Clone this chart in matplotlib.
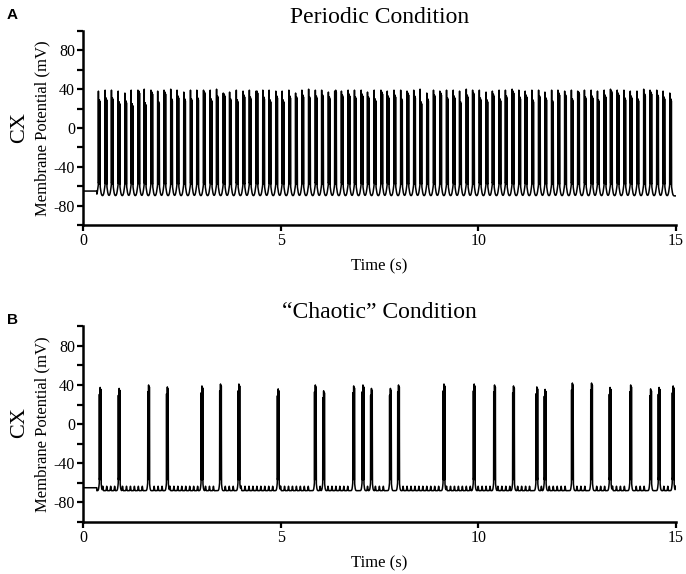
import numpy as np
import matplotlib
matplotlib.use("Agg")
import matplotlib.pyplot as plt

plt.rcParams['font.family'] = ['Liberation Serif', 'DejaVu Serif']
plt.rcParams['axes.unicode_minus'] = False

# ---- data ----
onset = 0.35          # trace sits at rest (-65 mV) until here
rest_mv = -65

# periodic condition: burst times (s), tall first spike and second spike peaks (mV)
periodic_bursts = [0.39, 0.56, 0.72, 0.89, 1.06, 1.22, 1.39, 1.55, 1.72, 1.89,
                   2.05, 2.22, 2.38, 2.55, 2.72, 2.88, 3.05, 3.22, 3.38, 3.55,
                   3.71, 3.88, 4.05, 4.21, 4.38, 4.55, 4.71, 4.88, 5.04, 5.21,
                   5.38, 5.54, 5.71, 5.88, 6.04, 6.21, 6.37, 6.54, 6.71, 6.87,
                   7.04, 7.20, 7.37, 7.54, 7.70, 7.87, 8.04, 8.20, 8.37, 8.53,
                   8.70, 8.87, 9.03, 9.20, 9.37, 9.53, 9.70, 9.86, 10.03, 10.20,
                   10.36, 10.53, 10.69, 10.86, 11.03, 11.19, 11.36, 11.53, 11.69, 11.86,
                   12.02, 12.19, 12.36, 12.52, 12.69, 12.86, 13.02, 13.19, 13.35, 13.52,
                   13.69, 13.85, 14.02, 14.19, 14.35, 14.52, 14.68, 14.85]
periodic_peak1 = [38, 39, 39, 38, 36, 39, 39, 40, 39, 38,
                  39, 40, 39, 37, 39, 39, 39, 39, 40, 36,
                  37, 39, 38, 39, 38, 39, 39, 38, 38, 39,
                  36, 39, 40, 39, 39, 37, 38, 38, 39, 39,
                  39, 37, 39, 39, 38, 39, 39, 38, 39, 40,
                  36, 39, 38, 39, 39, 38, 40, 39, 39, 37,
                  38, 39, 39, 40, 39, 38, 39, 39, 37, 39,
                  39, 38, 39, 38, 39, 39, 38, 39, 40, 39,
                  39, 38, 38, 40, 39, 39, 38, 36]
periodic_peak2 = [29, 31, 31, 27, 28, 25, 38, 26, 37, 27,
                  37, 30, 33, 30, 30, 31, 37, 30, 33, 35,
                  30, 29, 34, 32, 38, 32, 29, 33, 29, 33,
                  32, 34, 32, 33, 34, 32, 39, 34, 35, 32,
                  35, 32, 30, 37, 33, 34, 30, 36, 33, 27,
                  30, 34, 36, 31, 33, 27, 34, 36, 31, 29,
                  35, 30, 33, 38, 32, 34, 29, 33, 31, 28,
                  36, 34, 30, 37, 32, 33, 29, 34, 38, 36,
                  31, 33, 30, 35, 37, 34, 32, 30]

# "chaotic" condition: burst times (s) and burst peak (mV)
chaotic_bursts = [0.415, 0.895, 1.64, 2.115, 2.99, 3.46, 3.925, 4.92, 5.86, 6.07,
                  6.83, 7.065, 7.28, 7.76, 7.965, 9.115, 9.88, 10.395, 10.875, 11.465,
                  11.675, 12.365, 12.85, 13.32, 13.84, 14.345, 14.56, 14.915]
chaotic_peak = [37.5, 36.5, 40, 38, 39, 41, 41, 36, 40, 34,
                39, 40, 36.5, 36.5, 40, 41, 41, 40, 39, 38,
                35.5, 42, 42, 37.5, 40, 36, 37.5, 39]
small_event_gap = 0.1   # spacing of the small subthreshold events between bursts

t = np.arange(0, 15.0, 0.0005)


def add_spike(v, ts, peak, foot=-55, half=0.003):
    tri = peak - (peak - foot) * np.abs(t - ts) / half
    return np.maximum(v, tri)


# periodic trace
v1 = np.where(t < onset, rest_mv, -70.0)
for tb in periodic_bursts:
    v1 = v1 + np.where(t >= onset, 15 * np.exp(-((t - tb - 0.018) / 0.04) ** 2), 0)
for tb, p1, p2 in zip(periodic_bursts, periodic_peak1, periodic_peak2):
    v1 = add_spike(v1, tb, p1)
    v1 = add_spike(v1, tb + 0.025, p2)
    v1 = add_spike(v1, tb + 0.04, p2 - 2)

# chaotic trace
v2 = np.where(t < onset, rest_mv, -68.0)
bursts = np.array(chaotic_bursts)
ev = onset + 0.15
while ev < 15:
    if np.min(np.abs(bursts - ev)) > 0.07:
        v2 = v2 + 4.5 * np.exp(-((t - ev) / 0.01) ** 2)
    ev += small_event_gap
for tb, pk in zip(chaotic_bursts, chaotic_peak):
    v2 = v2 + np.where(t >= onset, 16 * np.exp(-((t - tb - 0.02) / 0.028) ** 2), 0)
for tb, pk in zip(chaotic_bursts, chaotic_peak):
    v2 = add_spike(v2, tb, pk - 7, foot=-54)
    v2 = add_spike(v2, tb + 0.02, pk, foot=-54)
    v2 = add_spike(v2, tb + 0.04, pk - 2, foot=-54)

fig = plt.figure(figsize=(6.86, 5.74), dpi=100)
axA = fig.add_axes([0.121, 0.608, 0.864, 0.338])
axB = fig.add_axes([0.121, 0.0906, 0.864, 0.341])

yt = np.arange(-100, 101, 20)
ylabels = [str(v) if v % 40 == 0 and abs(v) < 100 else '' for v in yt]

for ax, v, title in [(axA, v1, 'Periodic Condition'),
                     (axB, v2, '\u201cChaotic\u201d Condition')]:
    ax.plot(t, v, color='black', linewidth=1.1)
    ax.set_xlim(0, 15)
    ax.set_ylim(-100, 100)
    ax.set_xticks([0, 5, 10, 15])
    ax.set_yticks(yt)
    ax.set_yticklabels(ylabels)
    ax.spines['top'].set_visible(False)
    ax.spines['right'].set_visible(False)
    ax.spines['left'].set_linewidth(1.8)
    ax.spines['bottom'].set_linewidth(1.8)
    ax.tick_params(width=1.6, length=4.3, labelsize=11.5, pad=1.5)
    ax.set_title(title, fontsize=17, pad=6)
    ax.set_xlabel('Time (s)', fontsize=12)
    ax.xaxis.set_label_coords(0.5, -0.17)
    ax.set_ylabel('Membrane Potential (mV)', fontsize=12)
    ax.yaxis.set_label_coords(-0.055, 0.5)

fig.text(20 / 686, 1 - 128 / 574, 'CX', fontsize=16, rotation=90, ha='center', va='center')
fig.text(20 / 686, 1 - 423 / 574, 'CX', fontsize=16, rotation=90, ha='center', va='center')
fig.text(12 / 686, 1 - 15 / 574, 'A', fontsize=11, fontweight='bold',
         family='Liberation Sans', ha='center', va='center')
fig.text(12 / 686, 1 - 320 / 574, 'B', fontsize=11, fontweight='bold',
         family='Liberation Sans', ha='center', va='center')

fig.savefig('out.png', dpi=100)
